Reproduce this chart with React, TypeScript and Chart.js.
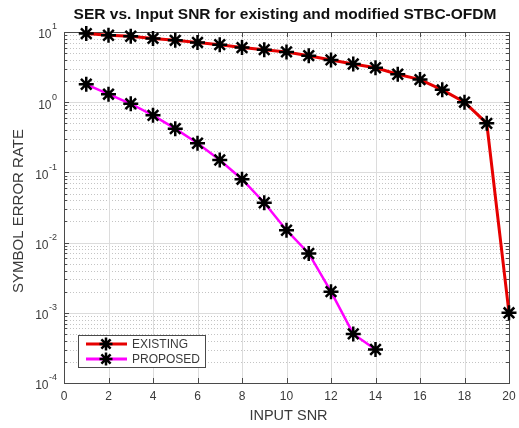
import React, { useEffect, useRef } from "react";
import { Chart, registerables } from "chart.js";

Chart.register(...registerables);

// ---- data ----
const existingSnr = [1, 2, 3, 4, 5, 6, 7, 8, 9, 10, 11, 12, 13, 14, 15, 16, 17, 18, 19, 20];
const existingSer = [9.5, 9.0, 8.7, 8.1, 7.6, 7.1, 6.6, 6.0, 5.6, 5.2, 4.6, 4.0, 3.5, 3.1, 2.5, 2.1, 1.5, 1.0, 0.5, 0.001];
const proposedSnr = [1, 2, 3, 4, 5, 6, 7, 8, 9, 10, 11, 12, 13, 14];
const proposedSer = [1.8, 1.3, 0.95, 0.65, 0.42, 0.26, 0.15, 0.08, 0.037, 0.015, 0.007, 0.002, 0.0005, 0.0003];
const xTickValues = [0, 2, 4, 6, 8, 10, 12, 14, 16, 18, 20];
const yDecadeExponents = [-4, -3, -2, -1, 0, 1];
const seriesNames = ["EXISTING", "PROPOSED"];
const titleText = "SER vs. Input SNR for existing and modified STBC-OFDM";
const xTitle = "INPUT SNR";
const yTitle = "SYMBOL ERROR RATE";

const FONT = "'Liberation Sans', Arial, Helvetica, sans-serif";
const RED = "rgb(230,0,0)";
const MAGENTA = "rgb(255,0,255)";
const FRAME = "#4a4a4a";
const TEXT = "#3a3a3a";

const crisp = (v: number) => Math.round(v) + 0.5;

function drawStar(ctx: CanvasRenderingContext2D, cx: number, cy: number, r: number) {
  ctx.save();
  ctx.strokeStyle = "#000";
  ctx.lineWidth = 2.5;
  ctx.beginPath();
  ctx.moveTo(cx - r, cy);
  ctx.lineTo(cx + r, cy);
  ctx.moveTo(cx, cy - r);
  ctx.lineTo(cx, cy + r);
  const d = r * Math.SQRT1_2;
  ctx.moveTo(cx - d, cy - d);
  ctx.lineTo(cx + d, cy + d);
  ctx.moveTo(cx - d, cy + d);
  ctx.lineTo(cx + d, cy - d);
  ctx.stroke();
  ctx.restore();
}

const matlabPlugin = {
  id: "matlabLook",
  beforeDatasetsDraw(chart: any) {
    const ctx: CanvasRenderingContext2D = chart.ctx;
    const { left, right, top, bottom } = chart.chartArea;
    const xs = chart.scales.x;
    const ys = chart.scales.y;
    ctx.save();
    ctx.lineWidth = 1;
    // minor dotted horizontal grid
    ctx.strokeStyle = "#c4c4c4";
    ctx.setLineDash([1, 2]);
    for (const e of yDecadeExponents) {
      if (e >= 1) continue;
      for (let m = 2; m <= 9; m++) {
        const py = crisp(ys.getPixelForValue(m * Math.pow(10, e)));
        ctx.beginPath();
        ctx.moveTo(left, py);
        ctx.lineTo(right, py);
        ctx.stroke();
      }
    }
    ctx.setLineDash([]);
    ctx.strokeStyle = "#dcdcdc";
    for (const e of yDecadeExponents) {
      const py = crisp(ys.getPixelForValue(Math.pow(10, e)));
      ctx.beginPath();
      ctx.moveTo(left, py);
      ctx.lineTo(right, py);
      ctx.stroke();
    }
    for (const v of xTickValues) {
      const px = crisp(xs.getPixelForValue(v));
      ctx.beginPath();
      ctx.moveTo(px, top);
      ctx.lineTo(px, bottom);
      ctx.stroke();
    }
    // frame
    ctx.strokeStyle = FRAME;
    ctx.strokeRect(crisp(left), crisp(top), Math.round(right - left), Math.round(bottom - top));
    // ticks
    ctx.beginPath();
    for (const v of xTickValues) {
      const px = crisp(xs.getPixelForValue(v));
      ctx.moveTo(px, bottom);
      ctx.lineTo(px, bottom - 5);
      ctx.moveTo(px, top);
      ctx.lineTo(px, top + 5);
    }
    for (const e of yDecadeExponents) {
      const py = crisp(ys.getPixelForValue(Math.pow(10, e)));
      ctx.moveTo(left, py);
      ctx.lineTo(left + 5, py);
      ctx.moveTo(right, py);
      ctx.lineTo(right - 5, py);
      if (e < 1) {
        for (let m = 2; m <= 9; m++) {
          const pm = crisp(ys.getPixelForValue(m * Math.pow(10, e)));
          ctx.moveTo(left, pm);
          ctx.lineTo(left + 3, pm);
          ctx.moveTo(right, pm);
          ctx.lineTo(right - 3, pm);
        }
      }
    }
    ctx.stroke();
    ctx.restore();
  },
  afterDraw(chart: any) {
    const ctx: CanvasRenderingContext2D = chart.ctx;
    const { left, right, top, bottom } = chart.chartArea;
    const xs = chart.scales.x;
    const ys = chart.scales.y;
    ctx.save();
    // title
    ctx.fillStyle = "#111";
    ctx.font = `bold 15.5px ${FONT}`;
    ctx.textAlign = "center";
    ctx.textBaseline = "middle";
    ctx.fillText(titleText, 285, 15);
    // x tick labels
    ctx.fillStyle = TEXT;
    ctx.font = `12px ${FONT}`;
    ctx.textBaseline = "middle";
    for (const v of xTickValues) {
      ctx.fillText(String(v), xs.getPixelForValue(v), bottom + 14);
    }
    // x title
    ctx.font = `14.5px ${FONT}`;
    ctx.fillText(xTitle, (left + right) / 2 + 2, bottom + 33);
    // y title
    ctx.save();
    ctx.font = `15px ${FONT}`;
    ctx.translate(19, 211);
    ctx.rotate(-Math.PI / 2);
    ctx.fillText(yTitle, 0, 0);
    ctx.restore();
    // y tick labels 10^e
    for (const e of yDecadeExponents) {
      const py = ys.getPixelForValue(Math.pow(10, e));
      const expStr = String(e);
      ctx.font = `9px ${FONT}`;
      const ew = ctx.measureText(expStr).width;
      const endX = left - 7;
      ctx.textAlign = "left";
      ctx.fillText(expStr, endX - ew, py - 5);
      ctx.font = `12px ${FONT}`;
      ctx.textAlign = "right";
      ctx.fillText("10", endX - ew - 0.5, py + 3);
    }
    // legend
    const lx = 78, ly = 335, lw = 127, lh = 32;
    ctx.fillStyle = "#fff";
    ctx.fillRect(lx, ly, lw, lh);
    ctx.strokeStyle = FRAME;
    ctx.lineWidth = 1;
    ctx.strokeRect(lx + 0.5, ly + 0.5, lw, lh);
    const colors = [RED, MAGENTA];
    for (let i = 0; i < seriesNames.length; i++) {
      const yy = ly + 9 + i * 15;
      ctx.strokeStyle = colors[i];
      ctx.lineWidth = 3;
      ctx.beginPath();
      ctx.moveTo(86, yy);
      ctx.lineTo(127, yy);
      ctx.stroke();
      drawStar(ctx, 106, yy, 6.5);
      ctx.fillStyle = TEXT;
      ctx.font = `12px ${FONT}`;
      ctx.textAlign = "left";
      ctx.textBaseline = "middle";
      ctx.fillText(seriesNames[i], 132, yy + 0.5);
    }
    ctx.restore();
  },
};

export default function App() {
  const canvasRef = useRef<HTMLCanvasElement | null>(null);

  useEffect(() => {
    document.body.style.margin = "0";
    const canvas = canvasRef.current;
    if (!canvas) return;
    const chart = new Chart(canvas, {
      type: "line",
      data: {
        datasets: [
          {
            label: seriesNames[0],
            data: existingSnr.map((x, i) => ({ x, y: existingSer[i] })),
            borderColor: RED,
            borderWidth: 3,
            pointStyle: "star",
            pointRadius: 7.5,
            pointBorderWidth: 2.5,
            pointBorderColor: "#000",
            pointBackgroundColor: "#000",
            tension: 0,
            clip: false as any,
          },
          {
            label: seriesNames[1],
            data: proposedSnr.map((x, i) => ({ x, y: proposedSer[i] })),
            borderColor: MAGENTA,
            borderWidth: 2.5,
            pointStyle: "star",
            pointRadius: 7.5,
            pointBorderWidth: 2.5,
            pointBorderColor: "#000",
            pointBackgroundColor: "#000",
            tension: 0,
            clip: false as any,
          },
        ],
      },
      options: {
        animation: false,
        responsive: false,
        maintainAspectRatio: false,
        devicePixelRatio: 1,
        layout: { padding: { left: 64, top: 32, right: 8, bottom: 45 } },
        plugins: {
          legend: { display: false },
          title: { display: false },
          tooltip: { enabled: false },
        },
        scales: {
          x: { type: "linear", min: 0, max: 20, display: false },
          y: { type: "logarithmic", min: 1e-4, max: 10, display: false },
        },
      },
      plugins: [matlabPlugin],
    });
    return () => chart.destroy();
  }, []);

  return (
    <div style={{ position: "absolute", left: 0, top: 0, width: 519, height: 428, background: "#fff" }}>
      <canvas ref={canvasRef} width={519} height={428} style={{ width: 519, height: 428, display: "block" }} />
    </div>
  );
}
